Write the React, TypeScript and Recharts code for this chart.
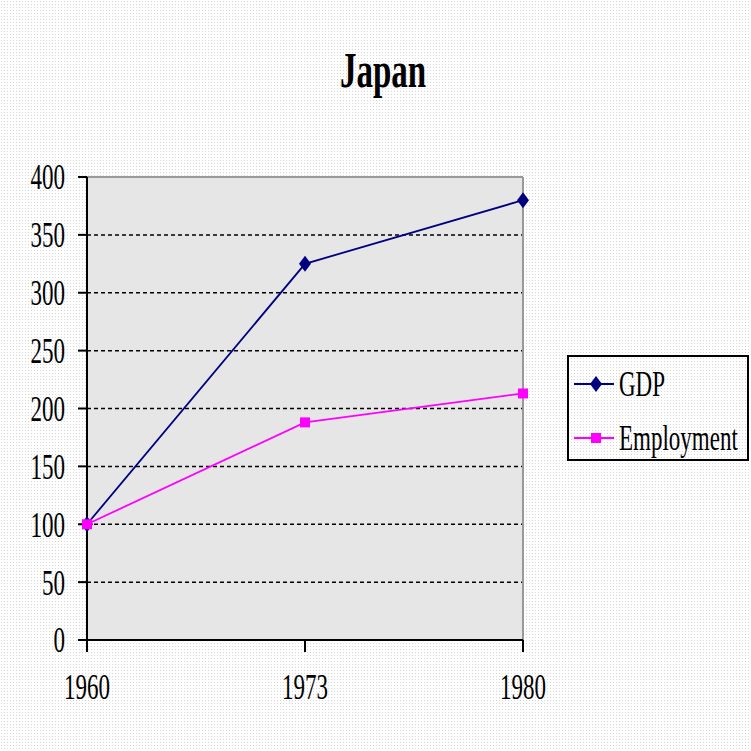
import { CartesianGrid, Line, LineChart, ReferenceLine, XAxis, YAxis } from "recharts";

const years = ["1960", "1973", "1980"];
const gdp = [100, 325, 380];
const employment = [100, 188, 213];
const yTicks = [0, 50, 100, 150, 200, 250, 300, 350, 400];
const gridValues = [50, 100, 150, 200, 250, 300, 350];

const data = years.map((year, i) => ({ year, gdp: gdp[i], employment: employment[i] }));

const serif = "'Liberation Serif', 'Times New Roman', serif";
const stretch = 1.55;

// 縦長の旧式フォント風の目盛りラベル
function YTick(props: any) {
  const { x, y, payload } = props;
  return (
    <g transform={`translate(${x},${y}) scale(1,${stretch})`}>
      <text textAnchor="end" dy="0.35em" fontFamily={serif} fontSize={23} fill="#000">
        {payload.value}
      </text>
    </g>
  );
}

function XTick(props: any) {
  const { x, y, payload } = props;
  return (
    <g transform={`translate(${x},${y}) scale(1,${stretch})`}>
      <text textAnchor="middle" dy="0.71em" fontFamily={serif} fontSize={23} fill="#000">
        {payload.value}
      </text>
    </g>
  );
}

function Diamond(props: any) {
  const { cx, cy } = props;
  if (cx == null || cy == null) return null;
  return <polygon points={`${cx},${cy - 8} ${cx + 6},${cy} ${cx},${cy + 8} ${cx - 6},${cy}`} fill="#000080" />;
}

function Square(props: any) {
  const { cx, cy } = props;
  if (cx == null || cy == null) return null;
  return <rect x={cx - 5} y={cy - 5} width={10} height={10} fill="#ff00ff" />;
}

function LegendBox() {
  const row = (label: string, color: string, marker: "d" | "s") => (
    <div style={{ display: "flex", alignItems: "center", height: 54 }}>
      <svg width={44} height={20} style={{ marginLeft: 3 }}>
        <line x1={2} y1={10} x2={42} y2={10} stroke={color} strokeWidth={2} />
        {marker === "d" ? (
          <polygon points="24,2 30,10 24,18 18,10" fill={color} />
        ) : (
          <rect x={19} y={5} width={10} height={10} fill={color} />
        )}
      </svg>
      <span
        style={{
          display: "inline-block",
          fontFamily: serif,
          fontSize: 23,
          marginLeft: 3,
          color: "#000",
          transform: `scaleY(${stretch})`,
          lineHeight: 1,
        }}
      >
        {label}
      </span>
    </div>
  );
  return (
    <div
      style={{
        position: "absolute",
        left: 567,
        top: 355,
        width: 182,
        height: 106,
        border: "2px solid #000",
        boxSizing: "border-box",
        paddingTop: 0,
      }}
    >
      {row("GDP", "#000080", "d")}
      {row("Employment", "#ff00ff", "s")}
    </div>
  );
}

export default function App() {
  return (
    <div
      style={{
        position: "absolute",
        left: 0,
        top: 0,
        width: 751,
        height: 751,
        backgroundColor: "#ffffff",
        backgroundImage: "radial-gradient(#d6d6d6 0.7px, transparent 0.8px)",
        backgroundSize: "3px 3px",
      }}
    >
      <div
        style={{
          position: "absolute",
          top: 45,
          left: 0,
          width: 766,
          textAlign: "center",
          fontFamily: serif,
          fontWeight: "bold",
          fontSize: 33,
          lineHeight: 1,
          color: "#000",
          transform: `scaleY(${stretch})`,
          transformOrigin: "center top",
        }}
      >
        Japan
      </div>
      <LineChart width={751} height={751} data={data} margin={{ top: 177, right: 228, bottom: 0, left: 0 }}>
        <CartesianGrid
          horizontal
          vertical={false}
          fill="#e6e6e6"
          horizontalValues={gridValues}
          stroke="#000"
          strokeDasharray="4 3"
          strokeWidth={1.5}
        />
        <ReferenceLine y={400} stroke="#999" strokeWidth={2} />
        <ReferenceLine x="1980" stroke="#999" strokeWidth={2} />
        <XAxis
          dataKey="year"
          height={111}
          padding={{ left: 0, right: 0 }}
          axisLine={{ stroke: "#000", strokeWidth: 2 }}
          tickLine={{ stroke: "#000", strokeWidth: 2 }}
          tickSize={12}
          tickMargin={22}
          tick={<XTick />}
        />
        <YAxis
          domain={[0, 400]}
          ticks={yTicks}
          interval={0}
          width={87}
          axisLine={{ stroke: "#000", strokeWidth: 2 }}
          tickLine={{ stroke: "#000", strokeWidth: 2 }}
          tickSize={9}
          tickMargin={13}
          tick={<YTick />}
        />
        <Line
          type="linear"
          dataKey="gdp"
          name="GDP"
          stroke="#000080"
          strokeWidth={1.8}
          dot={<Diamond />}
          activeDot={false}
          isAnimationActive={false}
        />
        <Line
          type="linear"
          dataKey="employment"
          name="Employment"
          stroke="#ff00ff"
          strokeWidth={1.8}
          dot={<Square />}
          activeDot={false}
          isAnimationActive={false}
        />
      </LineChart>
      <LegendBox />
    </div>
  );
}
